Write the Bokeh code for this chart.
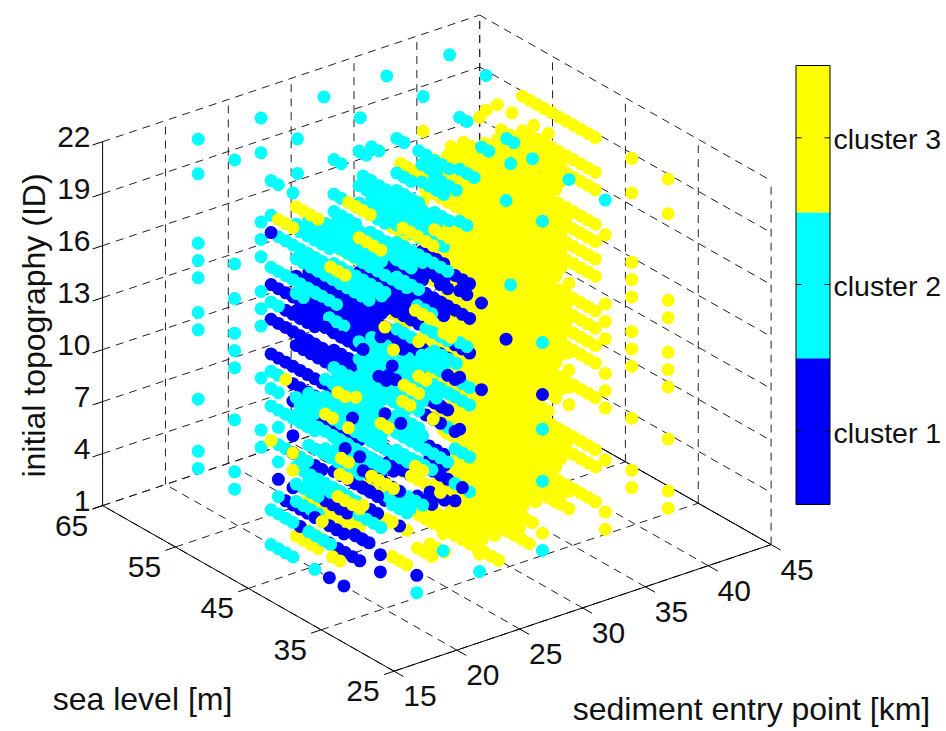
from bokeh.plotting import figure
from bokeh.models import Range1d
from bokeh.core.properties import value
from bokeh.embed import file_html
from bokeh.resources import INLINE

sed_ticks = [15, 20, 25, 30, 35, 40, 45]
sea_ticks = [65, 55, 45, 35, 25]
id_ticks = [1, 4, 7, 10, 13, 16, 19, 22]
cluster_labels = ["cluster 1", "cluster 2", "cluster 3"]
BLUE, CYAN, YELLOW = "#0000FF", "#00FFFF", "#FFFF00"

FA = [50, 49, 48, 47]
FB = [46, 45, 44, 43]
FC = [42, 41, 40]
F = FA + FB + FC
ALLZ = [22, 20, 19, 17, 16, 15, 14, 12, 11, 10, 9, 7, 4, 3, 1]
NOTOP = [20, 19, 17, 16, 15, 14, 12, 11, 10, 9, 7, 4, 3, 1]
ZC = [22, 20, 16, 15, 14, 12, 11, 10, 7, 4, 3]
ZX = [18, 13, 8, 6, 5, 2]

# blocks: ([sediment entry points], [ids], [sea levels])
yellow_back = [
    ([40], ALLZ, F), ([40], ZC, [35]), ([40], [22, 20, 15, 14, 12, 11, 10, 7, 4, 3], [30]),
    ([40], [20, 16, 15, 14, 12, 11, 10, 7, 4, 3], [55]),
    ([39], NOTOP, FA + FB), ([38], ZX, FA + FB),
    ([38], NOTOP, FA + FB + [42]), ([38], [22], [50, 48, 45, 43]), ([36], [22], [49, 46]),
    ([37, 36], NOTOP, FA + FB), ([37, 36], ZX, FA + FB), ([35], NOTOP, F), ([35], ZX, FB),
    ([34], NOTOP, FB + FC), ([34], [20, 16, 12, 9, 4, 1], FA),
    ([35], [20, 16, 15, 14, 12, 11, 10, 7, 4, 3], [30]),
    ([35], [20, 16, 15, 14, 12, 11, 10, 9, 7, 4, 3], [35]),
    ([35], [20, 16, 15, 14, 12], [55]),
    ([35], [3], [42, 41, 40, 39, 38, 37, 36]),
    ([33, 32], ALLZ, FB + FC), ([33, 32], [20, 17, 15, 10], FA), ([33, 32], ZX, FC),
    ([33], [1], [39, 38, 37]), ([30], [3, 1], [39, 38, 37, 36]),
    ([30, 28], [22], FB + FC),
    ([31, 30], [20, 17, 15, 12, 11, 9, 7, 4, 3, 1], FB + FC),
    ([30], [20, 16, 14, 11, 10, 7, 4], [35, 30]),
    ([30], [3, 1], FA),
    ([28, 27], [20, 17, 15, 11, 3, 1], FC), ([28, 27], [3, 1], FA),
    ([25], [20, 17, 15, 11, 3, 1], FC),
    ([25], [17, 3, 1], FA), ([25], [16, 14, 10, 7, 4], [35, 30]),
    ([23, 22], [20, 17, 3], FB), ([23, 22], [3, 1], FA),
    ([20], [7, 3], FB),
]
blue_mid = [
    ([22, 23], [16, 15, 14, 12], F), ([27, 28], [16, 15, 14, 12], FA + FB),
    ([32], [15, 14, 12], FA), ([33], [14, 12], [50, 49]),
    ([22, 23], [4], FB), ([27, 28], [4], FA + FC), ([22], [7, 3], FC), ([23], [1], FB),
    ([28], [10, 11], FB), ([32], [4], FA),
    ([25, 27], [5], FB), ([22, 28], [6], FC), ([23, 30], [8], FB), ([33], [6], [50, 49]),
    ([20], [5], [49]), ([20], [8, 5, 4], [47]),
    ([20], [16], FA + FB), ([20], [15], [48, 47, 46, 45, 44]), ([20], [14], FA + FB),
    ([20], [12], F), ([20], [11], [47, 46, 45, 44, 43]), ([20], [10], [47, 43, 42]),
    ([20], [7], [47, 44, 43]), ([20], [4], [48, 46, 45, 42, 41]), ([20], [3], [46, 42]),
    ([20], [1], [42, 40]), ([20], [4, 3], [35]), ([20], [4], [30]),
    ([25], [16], FC), ([25], [15], FA + FB), ([25], [14], F), ([25], [12], F),
    ([25], [11], FA), ([25], [10], FB), ([25], [7], [44, 43, 42]), ([25], [4], FA + FB),
    ([25], [3], [45, 44, 41]), ([25], [1], [47, 46]),
    ([30], [16], FC), ([30], [15], [44, 43]), ([30], [14], FB + FC), ([30], [12], FA + FC),
    ([30], [11], [44, 43]), ([30], [10], FA), ([30], [7], [50, 46, 45]), ([30], [4], FB),
    ([30], [3], [42]), ([30], [12], [30]), ([30], [14], [35]),
]
cyan_mid = [
    ([22, 23], [19, 17, 9], F), ([22, 23], [20, 11, 10, 7], FB + FC),
    ([27, 28], [20, 19, 9], FA + FB), ([27, 28], [22], [50, 49]), ([27, 28], [17, 11, 10, 7], FA + FB),
    ([32, 33], [19, 9], FA), ([32, 33], [20, 17, 7], [50, 49, 48]),
    ([22, 23], [15], [50, 49]), ([27], [15], FC), ([28], [12], FC), ([22, 23], [4], FA),
    ([27, 28], [3], FB), ([22], [3], FA), ([23, 27], [1], FA), ([32], [16], FA),
    ([20], [8, 6], [49]), ([22, 28], [5], FA + FB), ([23, 25], [6], FA + FB),
    ([27, 30], [6], FA + FC), ([25, 28], [8], FA), ([22], [8], FA + FB), ([30], [5], FA + FB),
    ([20], [22], [60, 55]), ([20], [20, 16, 15, 14, 12, 11, 7, 4, 3], [60]),
    ([20], [16, 14, 12, 11, 10, 7, 4, 3], [55]),
    ([25], ZC, [60]), ([25], [22, 20], [55]), ([30], [22], [60]), ([30], [22, 20], [55]),
    ([35], [22], [60, 55]), ([40], [22], [60, 55]),
    ([20], [22], [50, 49, 47]), ([20], [20], [50, 46, 45, 44, 43, 42]),
    ([20], [19], [49, 48, 47, 46, 45, 44, 43]), ([20], [17], [50, 49, 48, 47, 46, 45, 44, 43, 42, 41]),
    ([20], [16], FC), ([20], [15], [50, 49]), ([20], [11], [50, 49]), ([20], [10], [50, 49, 46, 45, 44]),
    ([20], [9], [50, 49, 48, 47, 46, 45, 44]), ([20], [7], [49, 48, 46, 45]), ([20], [4], [49, 44, 43]),
    ([20], [3], [50, 49, 48, 47]), ([20], [1], [50, 49, 48, 47, 44]),
    ([25], [22], [50, 49, 46, 45]), ([25], [20], FA + FB), ([25], [19], [50, 49, 48, 47, 45, 44]),
    ([25], [17], FB + FC), ([25], [16], FA + FB),
    ([25], [11], FB + FC), ([25], [10], FA + FC), ([25], [9], F), ([25], [7], [50, 49, 48, 47, 46, 45, 41, 40]),
    ([25], [4], FC), ([25], [3], [50, 49, 48, 47]),
    ([30], [22], [50, 49, 47, 46]), ([30], [20], [50, 49, 48]), ([30], [19], FA), ([30], [17], FA), ([30], [16], FA + FB),
    ([30], [15], [50, 49, 48]), ([30], [14], FA), ([30], [12], FB), ([30], [11], FA), ([30], [10], FB + FC),
    ([30], [9], F), ([30], [7], [49, 48, 47, 44, 43, 42]), ([30], [4], FA + FC),
    ([35], [22], [50, 49]), ([35], [19], [50, 49, 48]),
    ([35], [16], [50, 49]), ([35], [9], [50, 49]),
]
blue_top = [
    ([20], [19], [50]), ([20], [7], [47]), ([20], [4], [44, 40]),
    ([25], [12], [49, 46, 42]), ([25], [4], [46, 44]), ([30], [7], [44, 42]),
    ([35], [12], [50, 49, 47]), ([35], [7], [50, 47]), ([35], [4], [50]),
    ([30], [4], [41]), ([22], [14], [48, 46]), ([27], [12], [47, 44]), ([23], [7], [45, 43]),
    ([28], [7], [46]), ([25], [5], [46, 45, 44, 43, 42, 41]),
    ([23], [9], [44]), ([27], [10], [46, 45]), ([30], [10], [43, 42]), ([25], [9], [43]), ([28], [9], [49, 48]),
]
yellow_top = [
    ([22], [20], FA), ([27], [17], FA), ([33], [16], FA), ([23], [17], [47, 46, 45]),
    ([28], [14], [44, 43, 42]), ([32], [11], [47, 46]), ([22], [9], [46, 45]), ([27], [7], [47, 46]),
    ([23], [4], FB), ([28], [3], FA), ([22], [1], [45, 44]),
    ([20], [7, 6], [47]), ([25], [5], [49, 48]), ([22], [6], [44, 43]), ([30], [8], [49, 48, 47]), ([28], [5], [44, 43]),
    ([23], [10], [46, 45]), ([27], [9], [44, 43]), ([25], [7], [48]), ([30], [9], [47, 46]), ([28], [11], [47]),
    ([25], [20], [48, 47, 46, 45]), ([27], [19], [44, 43, 42]),
    ([20], [20], [49, 48, 47]), ([20], [11], [48]), ([20], [7], [50]), ([20], [4], [43]),
    ([25], [14], [43]), ([25], [9], [47]), ([25], [3], [46, 42]),
    ([30], [17], [46, 45]), ([30], [11], [47]), ([30], [7], [45]), ([30], [3], [48, 44]),
]
cyan_top = [([35], [22], [35, 30]), ([30], [22], [35, 30]), ([30], [15, 10, 7, 3], [30]),
            ([25], [3], [35, 30]), ([20], [3], [30]),
            ([35], [21], [47, 46, 43]), ([35], [22], [40]), ([37], [21], [47, 46]), ([35], [14], [43])]

X0, Y0 = 393.5, 670.7
SX, SY = 12.57, -4.22
LX, LY = -7.285, -4.14
ZY = -17.33
MARK_SEA_SHIFT = 0.5


def sx(s, l):
    return X0 + SX * (s - 15) + LX * (l - 25)


def sy(s, l, z):
    return Y0 + SY * (s - 15) + LY * (l - 25) + ZY * (z - 1)


p = figure(width=946, height=731, output_backend="svg", toolbar_location=None,
           x_range=Range1d(0, 946), y_range=Range1d(731, 0), min_border=0)
p.axis.visible = False
p.grid.visible = False
p.outline_line_color = None

SMIN, SMAX = sed_ticks[0], sed_ticks[-1]
LMIN, LMAX = sea_ticks[-1], sea_ticks[0]
ZMIN, ZMAX = id_ticks[0], id_ticks[-1]


def seg(a, b):
    return [sx(a[0], a[1]), sx(b[0], b[1])], [sy(*a), sy(*b)]


dashed = []
for s in sed_ticks:
    dashed.append(seg((s, LMIN, ZMIN), (s, LMAX, ZMIN)))
    if s > SMIN:
        dashed.append(seg((s, LMAX, ZMIN), (s, LMAX, ZMAX)))
for l in sea_ticks:
    if l < LMAX:
        dashed.append(seg((SMIN, l, ZMIN), (SMAX, l, ZMIN)))
    dashed.append(seg((SMAX, l, ZMIN), (SMAX, l, ZMAX)))
dashed.append(seg((SMIN, LMAX, ZMIN), (SMAX, LMAX, ZMIN)))
for z in id_ticks:
    dashed.append(seg((SMIN, LMAX, z), (SMAX, LMAX, z)))
    dashed.append(seg((SMAX, LMAX, z), (SMAX, LMIN, z)))
p.multi_line([d[0] for d in dashed], [d[1] for d in dashed], line_color="#222222",
             line_width=1, line_dash="8 6")

solid = [seg((SMIN, LMAX, ZMIN), (SMIN, LMIN, ZMIN)),
         seg((SMIN, LMIN, ZMIN), (SMAX, LMIN, ZMIN)),
         seg((SMAX, LMIN, ZMIN), (SMAX, LMAX - 9, ZMIN)),
         seg((SMIN, LMAX, ZMIN), (SMIN, LMAX, ZMAX))]
for s in sed_ticks:
    solid.append(seg((s, LMIN, ZMIN), (s, LMIN - 1.3, ZMIN)))
for l in sea_ticks:
    solid.append(seg((SMIN, l, ZMIN), (SMIN - 0.8, l, ZMIN)))
for z in id_ticks:
    solid.append(seg((SMIN, LMAX, z), (SMIN - 0.8, LMAX, z)))
p.multi_line([d[0] for d in solid], [d[1] for d in solid], line_color="#000000", line_width=1)


def draw(blocks, colour):
    xs, ys = [], []
    for ss, zs, ls in blocks:
        for s in ss:
            for z in zs:
                for l in ls:
                    xs.append(sx(s, l + MARK_SEA_SHIFT))
                    ys.append(sy(s, l + MARK_SEA_SHIFT, z))
    p.scatter(xs, ys, size=13, marker="circle", fill_color=colour, line_color=None)


draw(yellow_back, YELLOW)
draw(blue_mid, BLUE)
draw(cyan_mid, CYAN)
draw(blue_top, BLUE)
draw(yellow_top, YELLOW)
draw(cyan_top, CYAN)

FONT = value("Liberation Sans")
TICK = dict(text_font=FONT, text_color="#111111", text_font_size="30px",
            text_baseline="middle")
CB = dict(text_font=FONT, text_color="#111111", text_font_size="28.5px",
          text_baseline="middle")
LAB = dict(text_font=FONT, text_color="#111111", text_font_size="32px",
           text_baseline="middle", text_align="center")

p.text([90] * len(id_ticks), [sy(SMIN, LMAX, z) - 5 for z in id_ticks], [str(z) for z in id_ticks],
       text_align="right", **TICK)
p.text([sx(SMIN, l) - 31 for l in sea_ticks], [sy(SMIN, l, ZMIN) + 20 for l in sea_ticks],
       [str(l) for l in sea_ticks], text_align="center", **TICK)
p.text([sx(s, LMIN) + 26 for s in sed_ticks], [sy(s, LMIN, ZMIN) + 25 for s in sed_ticks],
       [str(s) for s in sed_ticks], text_align="center", **TICK)
p.text([142], [698], ["sea level [m]"], **LAB)
p.text([751], [708], ["sediment entry point [km]"], **LAB)
p.text([33], [325], ["initial topography (ID)"], angle=90, angle_units="deg", **LAB)

bar_edges = [504, 357.7, 212, 65]
for i, c in enumerate([BLUE, CYAN, YELLOW]):
    p.quad(left=[795.5], right=[829.5], bottom=[bar_edges[i]], top=[bar_edges[i + 1]],
           fill_color=c, line_color=None)
p.quad(left=[795.5], right=[829.5], bottom=[504], top=[65], fill_color=None, line_color="#000000", line_width=1)
bar_ticks = [430.7, 284, 137.3]
p.multi_line([[795.5, 801] for _ in bar_ticks] + [[824, 829.5] for _ in bar_ticks],
             [[t, t] for t in bar_ticks] * 2, line_color="#000000", line_width=1)
p.text([833] * 3, [t + 1.5 for t in bar_ticks], cluster_labels, text_align="left", **CB)

open("out.html", "w").write(file_html(p, INLINE))
